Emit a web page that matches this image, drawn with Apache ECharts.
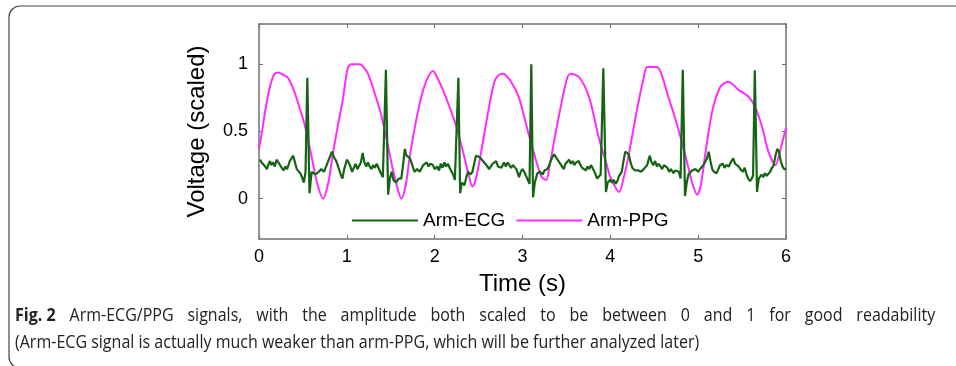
<!DOCTYPE html>
<html>
<head>
<meta charset="utf-8">
<script src="https://cdn.jsdelivr.net/npm/echarts@6/dist/echarts.min.js"></script>
<style>html,body{margin:0;padding:0;background:#fff}#c{width:956px;height:366px}</style>
</head>
<body>
<div id="c"></div>
<script>
// ---- data ----
const yTicks = [0, 0.5, 1];
const seriesNames = ['Arm-ECG', 'Arm-PPG'];

// Arm-ECG: [time (s), scaled voltage]
const ecgPoints = [
  [0.01,.29],[0.03,.27],[0.05,.26],[0.07,.24],[0.09,.22],[0.11,.26],[0.125,.28],[0.14,.25],[0.16,.27],[0.18,.24],[0.2,.29],[0.22,.27],[0.24,.25],[0.26,.23],[0.28,.21],[0.30,.24],[0.32,.22],[0.34,.26],[0.35,.28],[0.37,.3],[0.39,.32],[0.41,.27],[0.43,.22],[0.45,.21],[0.47,.19],[0.49,.16],[0.51,.12],[0.53,.2],[0.55,.9],[0.575,.04],[0.59,.14],[0.6,.2],[0.62,.21],[0.64,.18],[0.66,.17],[0.68,.2],[0.71,.22],[0.74,.2],[0.77,.25],[0.8,.3],[0.83,.35],[0.86,.3],[0.88,.28],[0.9,.24],[0.93,.18],[0.95,.15],[0.97,.22],[1.0,.29],
  [1.02,.27],[1.04,.24],[1.06,.2],[1.08,.23],[1.1,.26],[1.12,.22],[1.14,.23],[1.16,.27],[1.18,.34],[1.2,.27],[1.22,.24],[1.24,.27],[1.26,.24],[1.28,.22],[1.3,.25],[1.32,.23],[1.34,.26],[1.36,.23],[1.38,.2],[1.41,.16],[1.425,.17],[1.445,.96],[1.47,.03],[1.49,.15],[1.51,.2],[1.53,.14],[1.56,.12],[1.59,.15],[1.62,.15],[1.64,.25],[1.66,.37],[1.68,.32],[1.7,.33],[1.72,.3],[1.74,.26],[1.77,.2],[1.8,.22],[1.83,.2],[1.85,.21],[1.87,.25],[1.89,.24],[1.91,.27],[1.93,.24],[1.95,.26],[1.98,.25],
  [2.0,.22],[2.03,.24],[2.05,.21],[2.07,.26],[2.09,.23],[2.11,.27],[2.13,.24],[2.15,.26],[2.17,.23],[2.19,.22],[2.21,.18],[2.23,.14],[2.25,.15],[2.27,.9],[2.29,.04],[2.31,.12],[2.34,.1],[2.36,.16],[2.38,.2],[2.41,.18],[2.43,.2],[2.45,.26],[2.47,.32],[2.49,.33],[2.51,.31],[2.53,.32],[2.55,.28],[2.57,.29],[2.6,.24],[2.62,.22],[2.64,.24],[2.66,.26],[2.68,.25],[2.7,.28],[2.72,.24],[2.74,.25],[2.76,.23],[2.79,.27],[2.81,.24],[2.83,.27],[2.85,.25],[2.87,.23],[2.89,.25],[2.91,.24],[2.93,.22],[2.96,.16],[2.98,.2],[3.0,.22],
  [3.02,.2],[3.04,.17],[3.06,.16],[3.08,.11],[3.1,1.0],[3.12,.01],[3.14,.12],[3.17,.19],[3.2,.2],[3.23,.18],[3.25,.21],[3.28,.22],[3.3,.24],[3.32,.28],[3.34,.31],[3.36,.33],[3.38,.31],[3.4,.32],[3.42,.27],[3.45,.24],[3.47,.22],[3.49,.26],[3.51,.27],[3.53,.29],[3.55,.26],[3.57,.28],[3.59,.25],[3.61,.27],[3.64,.28],[3.66,.25],[3.68,.23],[3.7,.24],[3.72,.21],[3.74,.24],[3.76,.22],[3.78,.25],[3.8,.25],[3.82,.2],[3.85,.15],[3.87,.16],[3.89,.18],[3.905,.19],[3.92,.97],[3.95,.05],[3.97,.12],[4.0,.14],
  [4.02,.12],[4.04,.14],[4.06,.11],[4.08,.13],[4.1,.17],[4.13,.2],[4.15,.28],[4.17,.35],[4.19,.34],[4.21,.33],[4.23,.27],[4.25,.23],[4.28,.21],[4.3,.2],[4.32,.21],[4.35,.2],[4.38,.22],[4.4,.22],[4.42,.25],[4.44,.3],[4.45,.32],[4.47,.27],[4.49,.25],[4.51,.28],[4.53,.24],[4.55,.26],[4.57,.26],[4.59,.22],[4.61,.25],[4.63,.24],[4.65,.23],[4.67,.2],[4.69,.22],[4.72,.19],[4.74,.21],[4.76,.2],[4.78,.2],[4.8,.15],[4.805,.16],[4.825,.96],[4.85,.02],[4.87,.12],[4.89,.18],[4.91,.17],[4.93,.21],[4.95,.2],[4.97,.22],
  [5.0,.2],[5.02,.22],[5.04,.21],[5.06,.25],[5.08,.26],[5.1,.3],[5.12,.35],[5.14,.28],[5.16,.22],[5.18,.2],[5.21,.19],[5.23,.22],[5.25,.25],[5.28,.26],[5.3,.23],[5.32,.25],[5.35,.24],[5.37,.27],[5.4,.3],[5.42,.26],[5.44,.25],[5.46,.24],[5.48,.22],[5.51,.2],[5.53,.23],[5.55,.18],[5.57,.15],[5.59,.13],[5.61,.15],[5.625,.17],[5.645,.955],[5.67,.05],[5.69,.15],[5.72,.18],[5.74,.16],[5.76,.19],[5.78,.17],[5.8,.18],[5.82,.2],[5.84,.23],[5.86,.25],[5.88,.32],[5.9,.37],[5.92,.35],[5.94,.28],[5.96,.24],[5.98,.22],[6.0,.22]
];

// Arm-PPG: times and scaled values
const ppgT = [0,0.04,0.07,0.12,0.17,0.22,0.28,0.33,0.4,0.47,0.52,0.6,0.66,0.73,0.79,0.84,0.9,0.95,1.01,1.05,1.15,1.2,1.24,1.3,1.38,1.45,1.53,1.58,1.62,1.67,1.72,1.81,1.89,1.98,
  2.03,2.1,2.24,2.33,2.39,2.43,2.47,2.53,2.61,2.68,2.73,2.78,2.87,2.96,3.07,3.17,3.22,3.27,3.31,3.36,3.44,3.51,3.55,3.65,3.76,3.87,3.96,
  4.0,4.1,4.15,4.21,4.3,4.38,4.42,4.53,4.58,4.65,4.76,4.87,4.94,4.99,5.03,5.08,5.16,5.25,5.34,5.46,5.57,5.65,5.73,5.8,5.88,5.93,6.0];
const ppgV = [0.37,0.52,0.65,0.82,0.92,0.94,0.92,0.9,0.8,0.66,0.55,0.31,0.12,0.0,0.12,0.33,0.55,0.72,0.97,1.0,1.0,0.97,0.93,0.82,0.65,0.45,0.2,0.07,0.0,0.1,0.33,0.65,0.85,0.95,
  0.9,0.8,0.55,0.33,0.17,0.09,0.15,0.35,0.65,0.87,0.92,0.93,0.87,0.75,0.48,0.25,0.16,0.14,0.25,0.43,0.7,0.9,0.93,0.9,0.75,0.45,0.25,
  0.16,0.05,0.15,0.33,0.65,0.9,0.98,0.98,0.93,0.78,0.55,0.28,0.1,0.03,0.1,0.33,0.65,0.83,0.87,0.81,0.76,0.68,0.53,0.35,0.25,0.35,0.53];

const captionLabel = 'Fig. 2';
const captionLine1Words = ['Arm-ECG/PPG','signals,','with','the','amplitude','both','scaled','to','be','between','0','and','1','for','good','readability'];
const captionLine2 = '(Arm-ECG signal is actually much weaker than arm-PPG, which will be further analyzed later)';

// ---- chart ----
const ppgData = ppgT.map((t, i) => [t, ppgV[i]]);
const axisCol = '#707070';
const FONT = "'Liberation Sans', Arial, sans-serif";
const CAP = "'Open Sans', sans-serif";
const capScale = 0.89;
const chart = echarts.init(document.getElementById('c'), null, {renderer: 'canvas'});
const axisBase = {
  axisLine: {show: true, onZero: false, lineStyle: {color: axisCol, width: 1.5}},
  splitLine: {show: false}
};
chart.setOption({
  animation: false,
  backgroundColor: '#fff',
  grid: {left: 259, right: 170, top: 24, bottom: 127, containLabel: false},
  xAxis: [Object.assign({}, axisBase, {
    type: 'value', min: 0, max: 6, interval: 1, position: 'bottom',
    name: 'Time (s)', nameLocation: 'middle', nameGap: 33,
    nameTextStyle: {fontSize: 24, color: '#000', fontFamily: FONT},
    axisTick: {inside: true, length: 4, lineStyle: {color: axisCol}},
    axisLabel: {fontSize: 18, color: '#000', margin: 9, fontFamily: FONT}
  }), Object.assign({}, axisBase, {
    type: 'value', min: 0, max: 6, interval: 1, position: 'top',
    axisTick: {inside: true, length: 4, lineStyle: {color: axisCol}},
    axisLabel: {show: false}
  })],
  yAxis: [Object.assign({}, axisBase, {
    type: 'value', min: -0.3, max: 1.3, position: 'left',
    name: 'Voltage (scaled)', nameLocation: 'middle', nameGap: 50,
    nameTextStyle: {fontSize: 24, color: '#000', fontFamily: FONT},
    axisTick: {show: true, inside: true, length: 4, customValues: yTicks, lineStyle: {color: axisCol}},
    axisLabel: {fontSize: 18, color: '#000', margin: 11, customValues: yTicks, fontFamily: FONT}
  }), Object.assign({}, axisBase, {
    type: 'value', min: -0.3, max: 1.3, position: 'right',
    axisTick: {show: true, inside: true, length: 4, customValues: yTicks, lineStyle: {color: axisCol}},
    axisLabel: {show: false}
  })],
  legend: {
    left: 347, top: 206, itemWidth: 66, itemHeight: 2, itemGap: 11, icon: 'rect',
    textStyle: {fontSize: 19, color: '#000', fontFamily: FONT},
    data: seriesNames
  },
  series: [{
    name: seriesNames[0], type: 'line', data: ecgPoints, showSymbol: false, symbol: 'none',
    lineStyle: {color: '#146414', width: 2.2}, itemStyle: {color: '#146414'}, z: 3
  }, {
    name: seriesNames[1], type: 'line', data: ppgData, showSymbol: false, symbol: 'none', smooth: 0.3,
    lineStyle: {color: '#ff2cff', width: 2}, itemStyle: {color: '#ff2cff'}, z: 2
  }],
  graphic: [{
    type: 'rect',
    shape: {x: 9, y: 6, width: 1000, height: 362, r: 11},
    style: {stroke: '#444', lineWidth: 1.2, fill: 'none'}
  }, {
    type: 'text', x: 15, y: 307, scaleX: capScale,
    style: {
      text: '{b|' + captionLabel + '}{s| }' + captionLine1Words.join('{s| }'),
      font: "18px " + CAP, fill: '#222',
      rich: {
        b: {fontWeight: 'bold', fontSize: 18, fontFamily: CAP, fill: '#222'},
        s: {width: 15.6, fontSize: 18, fontFamily: CAP}
      }
    }
  }, {
    type: 'text', x: 15, y: 334, scaleX: capScale,
    style: {text: captionLine2, font: "18px " + CAP, fill: '#222'}
  }]
});
</script>
</body>
</html>
